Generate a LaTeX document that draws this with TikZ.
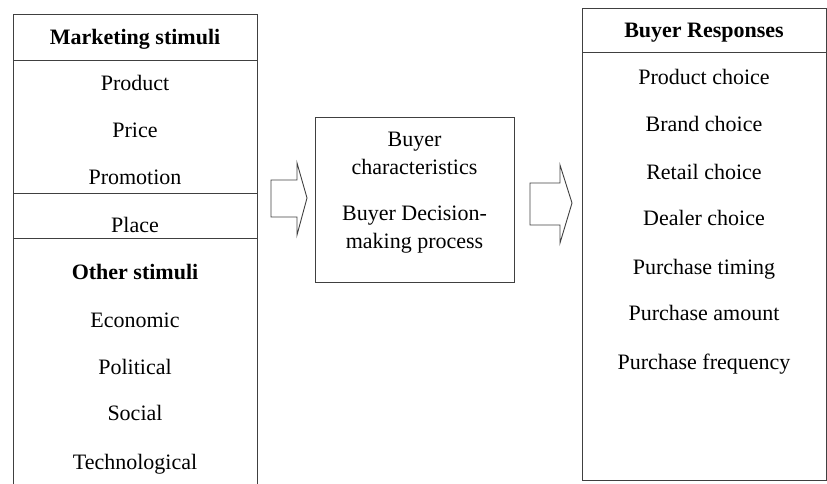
\documentclass[tikz,border=0pt]{standalone}
\usepackage{fontspec}
\setmainfont{Liberation Serif}

\begin{document}
\begin{tikzpicture}[x=1pt, y=-1pt, line width=0.8pt,
    txt/.style={font=\fontsize{22}{28}\selectfont, inner sep=0pt},
    lbl/.style={txt, text height=0.7em, text depth=0.2em, yshift=-5pt},
    hdr/.style={lbl, font=\fontsize{22}{28}\selectfont\bfseries},
    blk/.style={draw=black!75, line width=0.9pt}]
      \useasboundingbox (0,0) rectangle (827,484);

      % left box
      \draw[blk] (13,484) -- (13,14) -- (257,14) -- (257,484);
      \draw[blk] (13,60) -- (257,60);
      \draw[blk] (13,193) -- (257,193);
      \draw[blk] (13,238) -- (257,238);

      \node[hdr] (ms) at (135,37) {Marketing stimuli};
      \node[lbl] (prod) at (135,83) {Product};
      \node[lbl] (price) at (135,130) {Price};
      \node[lbl] (promo) at (135,177) {Promotion};
      \node[lbl] (place) at (135,225) {Place};
      \node[hdr] (os) at (135,272) {Other stimuli};
      \node[lbl] (econ) at (135,320) {Economic};
      \node[lbl] (pol) at (135,367) {Political};
      \node[lbl] (soc) at (135,413) {Social};
      \node[lbl] (tech) at (135,462) {Technological};

      % middle box
      \node[blk, minimum width=199pt, minimum height=165pt, inner sep=0pt] (bc) at (414.5,199.5) {};
      \node[txt, align=center] (char) at (414.5,153.5) {Buyer\\characteristics};
      \node[txt, align=center] (dec) at (414.5,230) {Buyer Decision-\\making process};

      % block arrows
      \draw[blk] (271,180) -- (297,180) -- (297,163) -- (307,198) -- (297,235) -- (297,217) -- (271,217) -- cycle;
      \draw[blk] (530,183) -- (560,183) -- (560,165) -- (572,203) -- (560,243) -- (560,225) -- (530,225) -- cycle;

      % right box
      \draw[blk] (582,8) rectangle (826,480);
      \draw[blk] (582,52) -- (826,52);

      \node[hdr] (br) at (704,30) {Buyer Responses};
      \node[lbl] (r1) at (704,77) {Product choice};
      \node[lbl] (r2) at (704,124) {Brand choice};
      \node[lbl] (r3) at (704,172) {Retail choice};
      \node[lbl] (r4) at (704,218) {Dealer choice};
      \node[lbl] (r5) at (704,267) {Purchase timing};
      \node[lbl] (r6) at (704,313) {Purchase amount};
      \node[lbl] (r7) at (704,362) {Purchase frequency};
    \end{tikzpicture}
\end{document}
